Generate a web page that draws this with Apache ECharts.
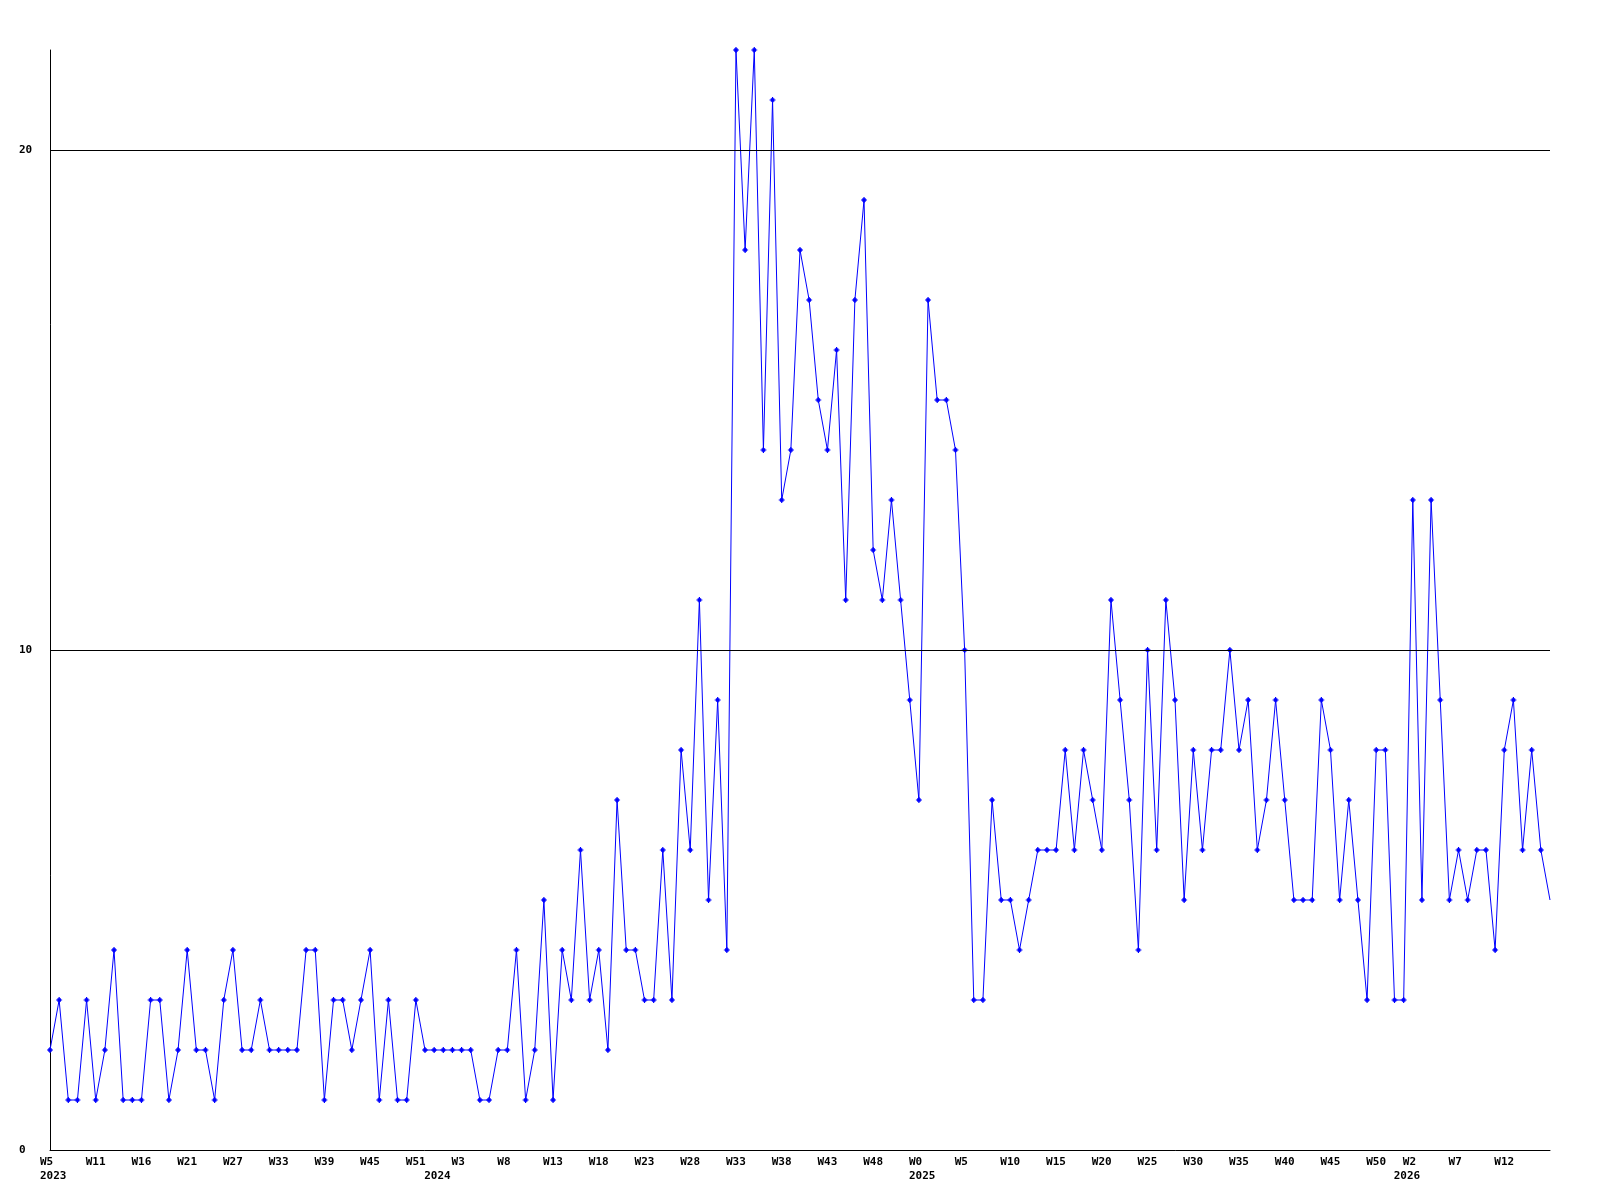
<!DOCTYPE html>
<html>
<head>
<meta charset="utf-8">
<script src="https://cdn.jsdelivr.net/npm/echarts@6/dist/echarts.min.js"></script>
<style>
html,body{margin:0;padding:0;background:#fff;}
#chart{width:1600px;height:1200px;}
</style>
</head>
<body>
<div id="chart"></div>
<script>
// Weekly values, one per point (first point 2023 W5)
const values = [
  2,3,1,1,3,1,2,4,1,1,
  1,3,3,1,2,4,2,2,1,3,
  4,2,2,3,2,2,2,2,4,4,
  1,3,3,2,3,4,1,3,1,1,
  3,2,2,2,2,2,2,1,1,2,
  2,4,1,2,5,1,4,3,6,3,
  4,2,7,4,4,3,3,6,3,8,
  6,11,5,9,4,22,18,22,14,21,
  13,14,18,17,15,14,16,11,17,19,
  12,11,13,11,9,7,17,15,15,14,
  10,3,3,7,5,5,4,5,6,6,
  6,8,6,8,7,6,11,9,7,4,
  10,6,11,9,5,8,6,8,8,10,
  8,9,6,7,9,7,5,5,5,9,
  8,5,7,5,3,8,8,3,3,13,
  5,13,9,5,6,5,6,6,4,8,
  9,6,8,6,5
];
// Week tick labels and the point index at which each appears
const weekLabels = ['W5','W11','W16','W21','W27','W33','W39','W45','W51',
  'W3','W8','W13','W18','W23','W28','W33','W38','W43','W48',
  'W0','W5','W10','W15','W20','W25','W30','W35','W40','W45','W50',
  'W2','W7','W12'];
const weekIndex = [0,5,10,15,20,25,30,35,40,
  45,50,55,60,65,70,75,80,85,90,
  95,100,105,110,115,120,125,130,135,140,145,
  149,154,159];
const yearLabels = ['2023','2024','2025','2026'];
const yearIndex = [0,42,95,148];
const yTicks = [0,10,20];

const categories = values.map((v,i)=>String(i));
const labelFor = values.map((v,i)=>{
  const w = weekIndex.indexOf(i);
  const y = yearIndex.indexOf(i);
  const wl = w >= 0 ? weekLabels[w] : '';
  const yl = y >= 0 ? yearLabels[y] : '';
  if (!wl && !yl) return '';
  return yl ? wl + '\n' + yl : wl;
});

const plus = 'path://M2,0H3V1H4V2H5V3H4V4H3V5H2V4H1V3H0V2H1V1H2Z';
const font = '"DejaVu Sans Mono", "Liberation Mono", monospace';
const last = values.length - 1;

const chart = echarts.init(document.getElementById('chart'), null, {renderer:'canvas'});
chart.setOption({
  animation:false,
  backgroundColor:'#ffffff',
  grid:{left:50,right:50,top:50,bottom:50,containLabel:false},
  xAxis:{
    type:'category',
    data:categories,
    boundaryGap:false,
    axisLine:{show:true,lineStyle:{color:'#000',width:1}},
    axisTick:{show:false},
    splitLine:{show:false},
    axisLabel:{
      interval:0,
      margin:5,
      align:'left',
      padding:[0,0,0,-10],
      color:'#000',
      fontFamily:font,
      fontWeight:'bold',
      fontSize:11,
      lineHeight:14,
      formatter:(val, idx)=>labelFor[idx] || ''
    }
  },
  yAxis:{
    type:'value',
    min:0,
    max:22,
    interval:10,
    axisLine:{show:true,lineStyle:{color:'#000',width:1}},
    axisTick:{show:false},
    splitLine:{show:false},
    axisLabel:{
      showMaxLabel:false,
      margin:31,
      align:'left',
      color:'#000',
      fontFamily:font,
      fontWeight:'bold',
      fontSize:11,
      formatter:(v)=> yTicks.indexOf(v) >= 0 ? String(v) : ''
    }
  },
  series:[{
    type:'line',
    data:values,
    showAllSymbol:true,
    symbol:(v, p)=> p.dataIndex === last ? 'none' : plus,
    symbolSize:6,
    lineStyle:{color:'#0000ff',width:1},
    itemStyle:{color:'#0000ff',borderWidth:0},
    emphasis:{disabled:true},
    markLine:{
      silent:true,
      symbol:['none','none'],
      label:{show:false},
      lineStyle:{color:'#000',type:'solid',width:1},
      data:yTicks.filter(t=>t>0).map(t=>({yAxis:t}))
    },
    z:3
  }]
});
</script>
</body>
</html>
